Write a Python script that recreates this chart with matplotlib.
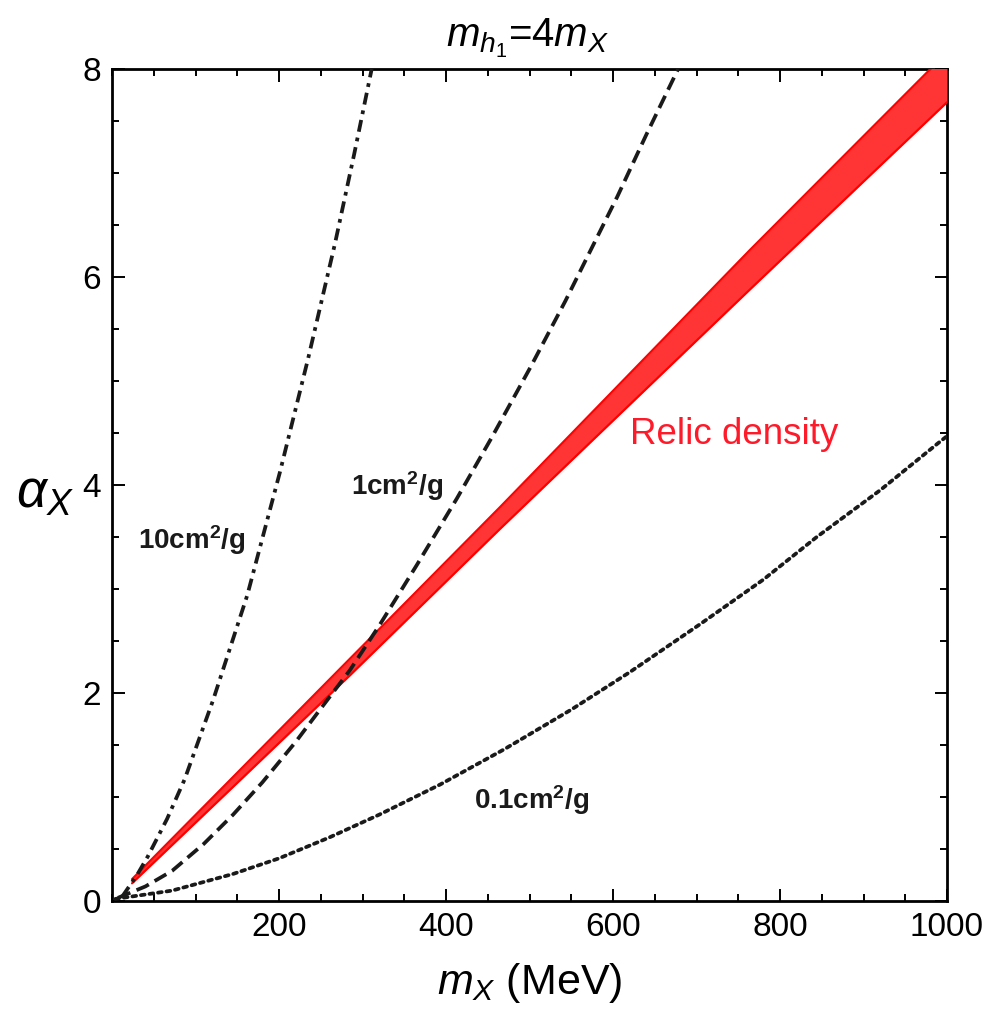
import matplotlib
matplotlib.use("Agg")
import matplotlib.pyplot as plt
from matplotlib.ticker import MultipleLocator

# values
m_10 = [12, 30, 43, 66, 87, 121, 162, 201, 235, 267, 290, 311]
a_10 = [0.04, 0.25, 0.43, 0.79, 1.17, 1.93, 2.94, 4.12, 5.22, 6.32, 7.18, 8.0]

m_1 = [7, 40, 72, 110, 145, 180, 220, 250, 285, 321, 365, 413, 455, 501, 543, 605, 640, 678]
a_1 = [0.03, 0.14, 0.29, 0.55, 0.83, 1.14, 1.53, 1.85, 2.22, 2.66, 3.23, 3.87, 4.46, 5.13, 5.77, 6.77, 7.37, 8.0]

m_01 = [4, 72, 145, 200, 260, 320, 393, 470, 550, 620, 704, 780, 844, 920, 989, 1000]
a_01 = [0.02, 0.10, 0.26, 0.41, 0.61, 0.83, 1.12, 1.46, 1.84, 2.20, 2.66, 3.09, 3.50, 3.95, 4.40, 4.47]

m_band = [24, 285, 465, 764, 1000]
band_lo = [0.17, 2.17, 3.58, 5.88, 7.68]
band_hi = [0.21, 2.33, 3.79, 6.26, 8.16]

x_ticks = [200, 400, 600, 800, 1000]
y_ticks = [0, 2, 4, 6, 8]

plt.rcParams["font.family"] = ["Liberation Sans", "DejaVu Sans"]
plt.rcParams["mathtext.fontset"] = "custom"
plt.rcParams["mathtext.rm"] = "Liberation Sans"
plt.rcParams["mathtext.it"] = "Liberation Sans:italic"
plt.rcParams["mathtext.bf"] = "Liberation Sans:bold"

fig = plt.figure(figsize=(9.89, 10.09), dpi=100)
ax = fig.add_axes([112 / 989, 108 / 1009, 835 / 989, 832 / 1009])

ax.fill_between(m_band, band_lo, band_hi, color="#ff3535", lw=0, zorder=3)
ax.plot(m_band, band_lo, color="red", lw=1.6, zorder=3, solid_capstyle="round")
ax.plot(m_band, band_hi, color="red", lw=1.6, zorder=3, solid_capstyle="round")

lk = dict(color="#1a1a1a", lw=2.7, zorder=4)
ax.plot(m_10, a_10, dashes=[3.2, 1.6, 1.0, 1.6], **lk)
ax.plot(m_1, a_1, dashes=[3.6, 1.8], **lk)
ax.plot(m_01, a_01, dashes=[1.0, 1.3], dash_capstyle="round", **lk)

ax.set_xlim(0, 1000)
ax.set_ylim(0, 8)
ax.set_xticks(x_ticks)
ax.set_yticks(y_ticks)
ax.xaxis.set_minor_locator(MultipleLocator(50))
ax.yaxis.set_minor_locator(MultipleLocator(0.5))
ax.tick_params(which="both", direction="in", top=True, right=True, width=1.4,
               labelsize=24, pad=8)
ax.tick_params(which="major", length=9)
ax.tick_params(which="minor", length=5)
for s in ax.spines.values():
    s.set_linewidth(2.0)

lab = dict(fontsize=20, fontweight="bold", color="#1a1a1a", ha="center", va="center")
ax.text(96, 3.47, r"10cm$^{\mathbf{2}}$/g", **lab)
ax.text(341, 3.99, r"1cm$^{\mathbf{2}}$/g", **lab)
ax.text(503, 0.97, r"0.1cm$^{\mathbf{2}}$/g", **lab)
ax.text(745, 4.49, "Relic density", fontsize=26.5, color="#ff1a2a", ha="center", va="center")

fig.text(528 / 989, 1 - 38 / 1009, r"$m_{h_1}$=4$m_X$", fontsize=29, ha="center", va="center")
fig.text(530 / 989, 1 - 983 / 1009, r"$m_X$ (MeV)", fontsize=31, ha="center", va="center")
fig.text(45 / 989, 1 - 494 / 1009, r"$\alpha_X$", fontsize=38, ha="center", va="center")

fig.savefig("out.png", dpi=100)
